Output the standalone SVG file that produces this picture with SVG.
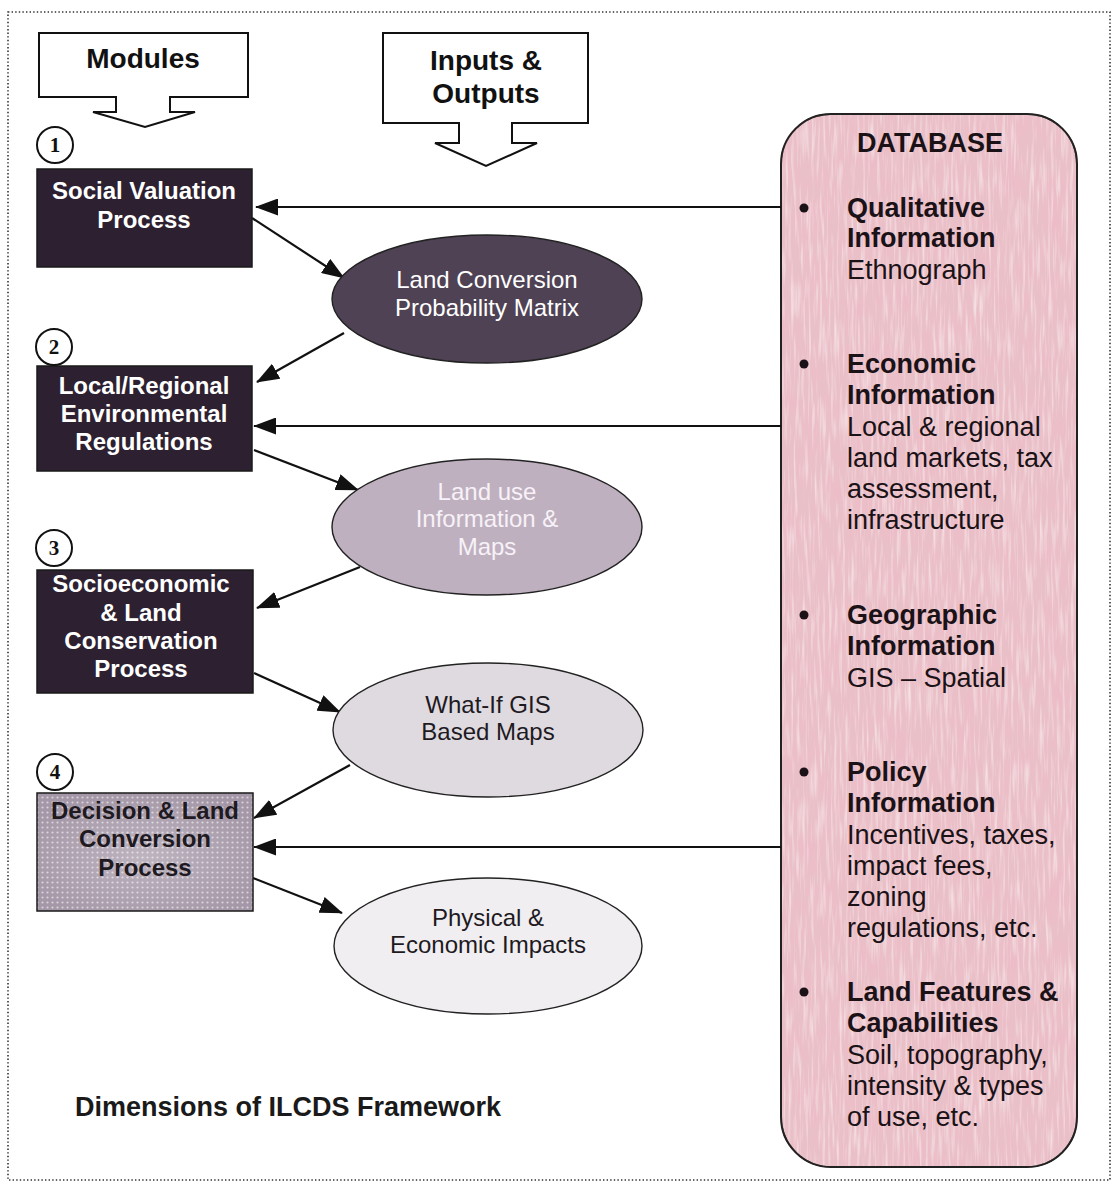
<svg xmlns="http://www.w3.org/2000/svg" width="1115" height="1188" viewBox="0 0 1115 1188">
  <style>
    .frame { fill: none; stroke: #333; stroke-width: 1.6; stroke-dasharray: 1.4 2.2; }
    .block { fill: #fff; stroke: #111; stroke-width: 2; }
    .hdr { font-family: "Liberation Sans", Arial, sans-serif; font-weight: bold; font-size: 28px; fill: #111; text-anchor: middle; }
    .num { fill: #fff; stroke: #111; stroke-width: 2; }
    .numtxt { font-family: "Liberation Serif", "Times New Roman", serif; font-weight: bold; font-size: 21px; fill: #111; text-anchor: middle; }
    .mod { stroke: #1a1a1a; stroke-width: 1.5; }
    .modtxt { font-family: "Liberation Sans", Arial, sans-serif; font-weight: bold; font-size: 24px; text-anchor: middle; }
    .ell { stroke: #222; stroke-width: 1.4; }
    .elltxt { font-family: "Liberation Sans", Arial, sans-serif; font-size: 24px; text-anchor: middle; }
    .conn line { stroke: #111; stroke-width: 2.2; marker-end: url(#ah); }
    .db { stroke: #222; stroke-width: 2; }
    .dbh { font-family: "Liberation Sans", Arial, sans-serif; font-weight: bold; font-size: 27px; fill: #1a1216; }
    .dbt { font-family: "Liberation Sans", Arial, sans-serif; font-size: 27px; fill: #1a1216; }
    .bul { fill: #1a1216; }
    .caption { font-family: "Liberation Sans", Arial, sans-serif; font-weight: bold; font-size: 27px; fill: #1a1a1a; }
  </style>
  <defs>
    <marker id="ah" markerWidth="23" markerHeight="17" refX="22" refY="8.5" orient="auto" markerUnits="userSpaceOnUse">
      <path d="M0,0 L23,8.5 L0,17 Z" fill="#111"/>
    </marker>
    <pattern id="dots" width="5" height="5" patternUnits="userSpaceOnUse">
      <rect width="5" height="5" fill="#a497a7"/>
      <circle cx="2.5" cy="2.5" r="1.1" fill="#d9d2da"/>
    </pattern>
    <radialGradient id="glow" cx="0.5" cy="0.55" r="0.6">
      <stop offset="0" stop-color="#fff" stop-opacity="0.28"/>
      <stop offset="1" stop-color="#fff" stop-opacity="0"/>
    </radialGradient>
    <!-- mottled pink stone texture for the database panel -->
    <filter id="mottle" x="0" y="0" width="100%" height="100%">
      <feTurbulence type="fractalNoise" baseFrequency="0.045 0.035" numOctaves="4" seed="7" result="n"/>
      <feColorMatrix in="n" type="matrix" values="0 0 0 0 0.84  0 0 0 0 0.50  0 0 0 0 0.58  1.9 0 0 0 -0.80" result="dark"/>
      <feTurbulence type="fractalNoise" baseFrequency="0.35 0.025" numOctaves="2" seed="3" result="s"/>
      <feColorMatrix in="s" type="matrix" values="0 0 0 0 0.97  0 0 0 0 0.88  0 0 0 0 0.90  1.5 0 0 0 -0.72" result="light"/>
      <feMerge result="m">
        <feMergeNode in="SourceGraphic"/>
        <feMergeNode in="dark"/>
        <feMergeNode in="light"/>
      </feMerge>
      <feComposite in="m" in2="SourceGraphic" operator="in"/>
    </filter>
  </defs>

  <rect width="1115" height="1188" fill="#fff"/>
  <rect class="frame" x="8" y="12" width="1102" height="1168"/>

  <!-- column headers -->
  <g id="hdr-modules">
    <path class="block" d="M39,33 H248 V97 H170 V112 H195 L145,127 L93,112 H116 V97 H39 Z"/>
    <text class="hdr" x="143" y="68">Modules</text>
  </g>
  <g id="hdr-io">
    <path class="block" d="M383,33 H588 V123 H512 V143 H537 L486,166 L435,143 H459 V123 H383 Z"/>
    <text class="hdr" x="486" y="70">Inputs &amp;</text>
    <text class="hdr" x="486" y="103">Outputs</text>
  </g>

  <!-- database panel -->
  <g id="database">
    <rect class="db" x="781" y="114" width="296" height="1053" rx="50" ry="50" fill="#eac0c8" filter="url(#mottle)"/>
    <rect x="781" y="114" width="296" height="1053" rx="50" ry="50" fill="none" stroke="#222" stroke-width="2"/>
    <text class="dbh" x="930" y="152" text-anchor="middle">DATABASE</text>
    <circle class="bul" cx="804" cy="208" r="4.5"/>
    <text class="dbh" x="847" y="217">Qualitative</text>
    <text class="dbh" x="847" y="247">Information</text>
    <text class="dbt" x="847" y="279">Ethnograph</text>
    <circle class="bul" cx="804" cy="364" r="4.5"/>
    <text class="dbh" x="847" y="373">Economic</text>
    <text class="dbh" x="847" y="404">Information</text>
    <text class="dbt" x="847" y="436">Local &amp; regional</text>
    <text class="dbt" x="847" y="467">land markets, tax</text>
    <text class="dbt" x="847" y="498">assessment,</text>
    <text class="dbt" x="847" y="529">infrastructure</text>
    <circle class="bul" cx="804" cy="615" r="4.5"/>
    <text class="dbh" x="847" y="624">Geographic</text>
    <text class="dbh" x="847" y="655">Information</text>
    <text class="dbt" x="847" y="687">GIS – Spatial</text>
    <circle class="bul" cx="804" cy="772" r="4.5"/>
    <text class="dbh" x="847" y="781">Policy</text>
    <text class="dbh" x="847" y="812">Information</text>
    <text class="dbt" x="847" y="844">Incentives, taxes,</text>
    <text class="dbt" x="847" y="875">impact fees,</text>
    <text class="dbt" x="847" y="906">zoning</text>
    <text class="dbt" x="847" y="937">regulations, etc.</text>
    <circle class="bul" cx="804" cy="992" r="4.5"/>
    <text class="dbh" x="847" y="1001">Land Features &amp;</text>
    <text class="dbh" x="847" y="1032">Capabilities</text>
    <text class="dbt" x="847" y="1064">Soil, topography,</text>
    <text class="dbt" x="847" y="1095">intensity &amp; types</text>
    <text class="dbt" x="847" y="1126">of use, etc.</text>
  </g>

  <!-- connectors -->
  <g id="connectors" class="conn">
    <line x1="781" y1="207" x2="256" y2="207"/>
    <line x1="252" y1="218" x2="344" y2="278"/>
    <line x1="344" y1="333" x2="257" y2="382"/>
    <line x1="781" y1="426" x2="254" y2="426"/>
    <line x1="254" y1="450" x2="358" y2="490"/>
    <line x1="360" y1="567" x2="257" y2="608"/>
    <line x1="254" y1="673" x2="340" y2="712"/>
    <line x1="350" y1="765" x2="254" y2="818"/>
    <line x1="781" y1="847" x2="254" y2="847"/>
    <line x1="253" y1="878" x2="342" y2="913"/>
  </g>

  <!-- module 1 -->
  <g id="module-1">
    <rect class="mod" x="37" y="169" width="215" height="98" fill="#2d2030"/>
    <text class="modtxt" x="144" y="199" fill="#fff">Social Valuation</text>
    <text class="modtxt" x="144" y="228" fill="#fff">Process</text>
    <circle class="num" cx="55" cy="145" r="18"/>
    <text class="numtxt" x="55" y="152">1</text>
  </g>

  <!-- module 2 -->
  <g id="module-2">
    <rect class="mod" x="37" y="366" width="215" height="105" fill="#2d2030"/>
    <text class="modtxt" x="144" y="394" fill="#fff">Local/Regional</text>
    <text class="modtxt" x="144" y="422" fill="#fff">Environmental</text>
    <text class="modtxt" x="144" y="450" fill="#fff">Regulations</text>
    <circle class="num" cx="54" cy="347" r="18"/>
    <text class="numtxt" x="54" y="354">2</text>
  </g>

  <!-- module 3 -->
  <g id="module-3">
    <rect class="mod" x="37" y="570" width="216" height="123" fill="#2d2030"/>
    <text class="modtxt" x="141" y="592" fill="#fff">Socioeconomic</text>
    <text class="modtxt" x="141" y="621" fill="#fff">&amp; Land</text>
    <text class="modtxt" x="141" y="649" fill="#fff">Conservation</text>
    <text class="modtxt" x="141" y="677" fill="#fff">Process</text>
    <circle class="num" cx="54" cy="548" r="18"/>
    <text class="numtxt" x="54" y="555">3</text>
  </g>

  <!-- module 4 -->
  <g id="module-4">
    <rect class="mod" x="37" y="793" width="216" height="118" fill="url(#dots)"/>
    <rect x="38" y="794" width="214" height="116" fill="url(#glow)"/>
    <text class="modtxt" x="145" y="819" fill="#1e1a1f">Decision &amp; Land</text>
    <text class="modtxt" x="145" y="847" fill="#1e1a1f">Conversion</text>
    <text class="modtxt" x="145" y="876" fill="#1e1a1f">Process</text>
    <circle class="num" cx="55" cy="772" r="18"/>
    <text class="numtxt" x="55" y="779">4</text>
  </g>

  <!-- outputs -->
  <g id="out-matrix">
    <ellipse class="ell" cx="487" cy="299" rx="155" ry="64" fill="#4f4254"/>
    <text class="elltxt" x="487" y="288" fill="#fff">Land Conversion</text>
    <text class="elltxt" x="487" y="316" fill="#fff">Probability Matrix</text>
  </g>
  <g id="out-landuse">
    <ellipse class="ell" cx="487" cy="527" rx="155" ry="68" fill="#bfb0c0"/>
    <text class="elltxt" x="487" y="500" fill="#f7f2f7">Land use</text>
    <text class="elltxt" x="487" y="527" fill="#f7f2f7">Information &amp;</text>
    <text class="elltxt" x="487" y="555" fill="#f7f2f7">Maps</text>
  </g>
  <g id="out-whatif">
    <ellipse class="ell" cx="488" cy="730" rx="155" ry="67" fill="#dfdadf"/>
    <text class="elltxt" x="488" y="713" fill="#1e1a1f">What-If GIS</text>
    <text class="elltxt" x="488" y="740" fill="#1e1a1f">Based Maps</text>
  </g>
  <g id="out-impacts">
    <ellipse class="ell" cx="488" cy="946" rx="154" ry="68" fill="#f0eef0"/>
    <text class="elltxt" x="488" y="926" fill="#1e1a1f">Physical &amp;</text>
    <text class="elltxt" x="488" y="953" fill="#1e1a1f">Economic Impacts</text>
  </g>

  <text class="caption" x="75" y="1116">Dimensions of ILCDS Framework</text>
</svg>
